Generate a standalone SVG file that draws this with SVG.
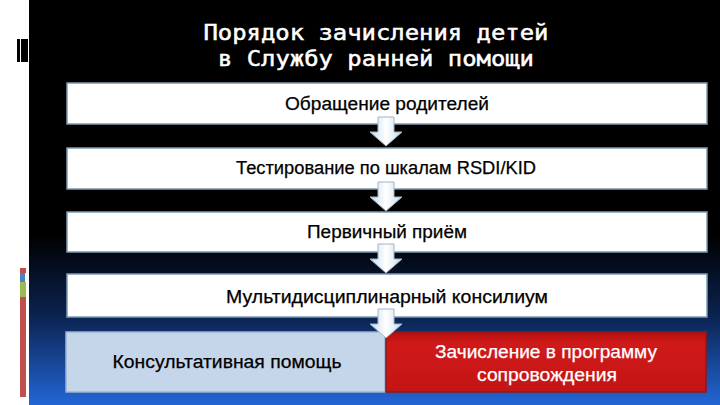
<svg xmlns="http://www.w3.org/2000/svg" width="720" height="405" viewBox="0 0 720 405">
<defs>
<linearGradient id="bg" x1="0" y1="0" x2="0" y2="1">
<stop offset="0" stop-color="#000000"/>
<stop offset="0.58" stop-color="#000000"/>
<stop offset="0.78" stop-color="#0b2350"/>
<stop offset="1" stop-color="#2366d6"/>
</linearGradient>
<linearGradient id="arr" x1="0" y1="0" x2="1" y2="0">
<stop offset="0" stop-color="#c9dbe8"/>
<stop offset="0.5" stop-color="#ffffff"/>
<stop offset="1" stop-color="#c9dbe8"/>
</linearGradient>
<linearGradient id="red" x1="0" y1="0" x2="0" y2="1">
<stop offset="0" stop-color="#b80d0d"/>
<stop offset="0.2" stop-color="#d01a1a"/>
<stop offset="1" stop-color="#c41414"/>
</linearGradient>
<path id="arrow" d="M-8,-22 L8,-22 L8,-7 L16,-7 L0,7 L-16,-7 L-8,-7 Z"/>
</defs>
<style>
.box{fill:#ffffff;stroke:#7c9bb3;stroke-width:1.5}
.t{font-family:"Liberation Sans","Noto Sans",sans-serif;font-size:18px;fill:#000000;text-anchor:middle;stroke:#000000;stroke-width:0.25}
.w{fill:#ffffff;stroke:#ffffff}
.title{font-family:"DejaVu Sans Mono",monospace;font-size:22px;fill:#ffffff;text-anchor:middle;stroke:#ffffff;stroke-width:0.5}
.ar{fill:url(#arr);stroke:#9fb6c8;stroke-width:1}
</style>
<rect x="0" y="0" width="720" height="405" fill="#ffffff"/>
<rect x="29" y="0" width="691" height="405" fill="url(#bg)"/>
<g id="decor">
<rect x="17" y="39" width="3" height="23" fill="#000000"/>
<rect x="21" y="39" width="7" height="23" fill="#000000"/>
<rect x="20" y="268" width="6" height="5" fill="#c0504d"/>
<rect x="20" y="273" width="5" height="9" fill="#4f81bd"/>
<rect x="20" y="282" width="6" height="15" fill="#9bbb59"/>
<rect x="20" y="297" width="6" height="100" fill="#c0504d"/>
</g>
<g id="title">
<text class="title" x="376" y="40" textLength="345" lengthAdjust="spacingAndGlyphs">Порядок зачисления детей</text>
<text class="title" x="376" y="66" textLength="316" lengthAdjust="spacingAndGlyphs">в Службу ранней помощи</text>
</g>
<g id="n1">
<rect class="box" x="67" y="83" width="640" height="41"/>
<text class="t" x="387" y="110" textLength="204" lengthAdjust="spacingAndGlyphs">Обращение родителей</text>
</g>
<g id="n2">
<rect class="box" x="67" y="148" width="640" height="41"/>
<text class="t" x="386" y="174" textLength="300" lengthAdjust="spacingAndGlyphs">Тестирование по шкалам RSDI/KID</text>
</g>
<g id="n3">
<rect class="box" x="67" y="212" width="640" height="40"/>
<text class="t" x="387" y="238" textLength="160" lengthAdjust="spacingAndGlyphs">Первичный приём</text>
</g>
<g id="n4">
<rect class="box" x="67" y="274" width="640" height="43"/>
<text class="t" x="387" y="303" textLength="322" lengthAdjust="spacingAndGlyphs">Мультидисциплинарный консилиум</text>
</g>
<g id="n5">
<rect x="66" y="332" width="319" height="60" fill="#c6d6ea" stroke="#9db3cf" stroke-width="1.5"/>
<text class="t" x="227" y="368" textLength="229" lengthAdjust="spacingAndGlyphs">Консультативная помощь</text>
</g>
<g id="n6">
<rect x="386" y="332" width="320" height="60" fill="url(#red)" stroke="#8e1a1a" stroke-width="1.5"/>
<text class="t w" x="546" y="358" textLength="222" lengthAdjust="spacingAndGlyphs">Зачисление в программу</text>
<text class="t w" x="547" y="381" textLength="140" lengthAdjust="spacingAndGlyphs">сопровождения</text>
</g>
<g id="connectors">
<use href="#arrow" class="ar" transform="translate(386,139)"/>
<use href="#arrow" class="ar" transform="translate(386,204)"/>
<use href="#arrow" class="ar" transform="translate(386,266)"/>
<use href="#arrow" class="ar" transform="translate(386,331)"/>
</g>
</svg>
